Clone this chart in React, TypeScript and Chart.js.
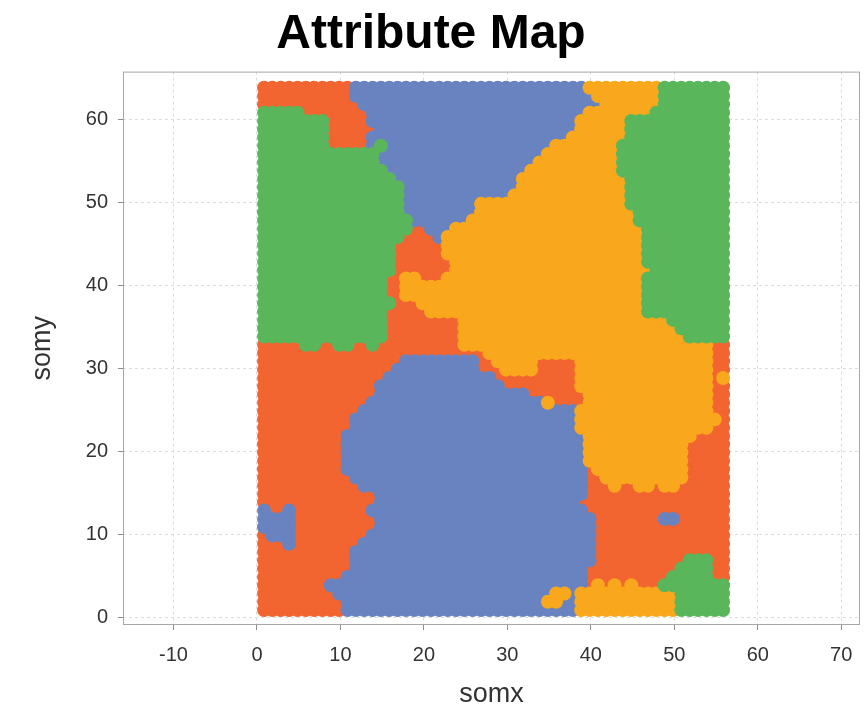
import React, { useEffect, useRef } from "react";
import { Chart, registerables } from "chart.js";

Chart.register(...registerables);

// Cluster letters: R = red, B = blue, Y = yellow, G = green
const CLUSTER_ORDER = ["G", "Y", "B", "R"]; // first drawn on top
const CLUSTER_COLORS: Record<string, string> = {
  R: "#F26430",
  B: "#6883C0",
  Y: "#F9A71C",
  G: "#5AB65B",
};
const GRID_COLS = 56;
const X_ORIGIN = 0.85;
const Y_ORIGIN = 0.85;
const X_TICKS = [-10, 0, 10, 20, 30, 40, 50, 60, 70];
const Y_TICKS = [0, 10, 20, 30, 40, 50, 60];

// SOM map rows, run-length coded, top row (somy = 63) first, bottom row last
const MAP_ROWS = [
  "R11 B28 Y9 G8",
  "R11 B29 Y8 G8",
  "R12 B29 Y7 G8",
  "G5 R8 B26 Y8 G9",
  "G8 R5 B25 Y6 G12",
  "G8 R6 B24 Y6 G12",
  "G8 R5 B24 Y7 G12",
  "G8 R5 B1 G1 B20 Y8 G13",
  "G14 B20 Y9 G13",
  "G14 B19 Y10 G13",
  "G15 B17 Y11 G13",
  "G16 B15 Y13 G12",
  "G17 B14 Y13 G12",
  "G17 B13 Y14 G12",
  "G17 B9 Y18 G12",
  "G17 B9 Y19 G11",
  "G18 B7 Y20 G11",
  "G18 R2 B3 Y23 G10",
  "G17 R4 B1 Y24 G10",
  "G16 R6 Y24 G10",
  "G16 R6 Y24 G10",
  "G16 R7 Y23 G10",
  "G16 R7 Y24 G9",
  "G15 R2 Y2 R3 Y24 G10",
  "G15 R2 Y29 G10",
  "G15 R2 Y29 G10",
  "G16 R3 Y27 G10",
  "G15 R5 Y26 G10",
  "G15 R9 Y25 G7",
  "G15 R9 Y26 G6",
  "G15 R9 Y27 G5",
  "R5 G2 R2 G2 R2 G1 R10 Y30 R2",
  "R27 Y27 R2",
  "R17 B9 R2 Y5 R5 Y16 R2",
  "R16 B10 R3 Y4 R5 Y16 R2",
  "R15 B13 R10 Y16 R1 Y1",
  "R14 B15 R9 Y16 R2",
  "R14 B18 R7 Y15 R2",
  "R13 B21 Y1 R4 Y15 R2",
  "R12 B26 Y16 R2",
  "R11 B27 Y17 R1",
  "R11 B27 Y16 R2",
  "R10 B29 Y13 R4",
  "R10 B29 Y12 R5",
  "R10 B29 Y12 R5",
  "R10 B29 Y12 R5",
  "R10 B29 R1 Y11 R5",
  "R11 B28 R2 Y10 R5",
  "R12 B27 R3 Y1 R2 Y2 R1 Y2 R6",
  "R14 B25 R17",
  "R14 B24 R18",
  "B1 R2 B1 R9 B26 R17",
  "B4 R10 B26 R8 B2 R6",
  "B4 R10 B26 R16",
  "R1 B3 R9 B27 R16",
  "R3 B1 R8 B28 R16",
  "R11 B29 R16",
  "R11 B29 R11 G3 R2",
  "R11 B28 R11 G4 R2",
  "R10 B29 R10 G5 R2",
  "R8 B31 R1 Y1 R1 Y1 R1 Y1 R3 G8",
  "R9 B26 Y2 B1 Y12 G6",
  "R10 B24 Y2 B2 Y12 G6",
  "R10 B28 Y12 G6",
];

function decodeRow(rle: string): string {
  let s = "";
  for (const tok of rle.trim().split(/\s+/)) {
    s += tok[0].repeat(parseInt(tok.slice(1), 10));
  }
  if (s.length < GRID_COLS) s = s.padEnd(GRID_COLS, s[s.length - 1]);
  return s.slice(0, GRID_COLS);
}

function buildPoints() {
  const pts: Record<string, { x: number; y: number }[]> = { R: [], B: [], Y: [], G: [] };
  const n = MAP_ROWS.length;
  MAP_ROWS.forEach((rle, r) => {
    const row = decodeRow(rle);
    const j = n - 1 - r;
    for (let k = 0; k < row.length; k++) {
      const c = row[k];
      if (pts[c]) pts[c].push({ x: X_ORIGIN + k, y: Y_ORIGIN + j });
    }
  });
  return pts;
}

const FONT = "'Liberation Sans', Arial, Helvetica, sans-serif";

const framePlugin = {
  id: "plotFrame",
  beforeDatasetsDraw(chart: any) {
    const { ctx, chartArea: a } = chart;
    ctx.save();
    ctx.strokeStyle = "#a6a6a6";
    ctx.lineWidth = 1;
    ctx.setLineDash([]);
    ctx.strokeRect(a.left + 0.5, a.top + 0.5, a.right - a.left - 1, a.bottom - a.top - 1);
    ctx.restore();
  },
};

export default function App() {
  const ref = useRef<HTMLCanvasElement | null>(null);
  useEffect(() => {
    if (!ref.current) return;
    const pts = buildPoints();
    const datasets = CLUSTER_ORDER.map((c) => ({
      label: c,
      data: pts[c],
      backgroundColor: CLUSTER_COLORS[c],
      borderWidth: 0,
      pointRadius: 7,
      pointHoverRadius: 7,
      pointStyle: "circle" as const,
    }));
    const gridCommon = {
      color: "#dcdcdc",
      lineWidth: 1,
      tickColor: "#8c8c8c",
      tickLength: 5,
      tickWidth: 1,
      tickBorderDash: [],
    };
    const chart = new Chart(ref.current, {
      type: "scatter",
      data: { datasets },
      plugins: [framePlugin],
      options: {
        animation: false,
        responsive: false,
        devicePixelRatio: 1,
        events: [],
        layout: { padding: { left: 0, right: 5, top: 0, bottom: 0 } },
        plugins: {
          legend: { display: false },
          tooltip: { enabled: false },
          title: {
            display: true,
            text: "Attribute Map",
            color: "#000",
            font: { family: FONT, size: 48, weight: "bold" },
            padding: { top: 6, bottom: 8 },
          },
        },
        scales: {
          x: {
            type: "linear",
            min: -16.05,
            max: 72.25,
            afterBuildTicks: (s: any) => {
              s.ticks = X_TICKS.map((v) => ({ value: v }));
            },
            afterFit: (s: any) => {
              s.height = 86;
            },
            ticks: {
              color: "#333",
              font: { family: FONT, size: 20 },
              padding: 13,
              maxRotation: 0,
              autoSkip: false,
            },
            grid: gridCommon,
            border: { display: false, dash: [3, 3] },
            title: {
              display: true,
              text: "somx",
              color: "#333",
              font: { family: FONT, size: 27 },
              padding: { top: 0, bottom: 0 },
            },
          },
          y: {
            type: "linear",
            min: -0.95,
            max: 65.8,
            afterBuildTicks: (s: any) => {
              s.ticks = Y_TICKS.map((v) => ({ value: v }));
            },
            afterFit: (s: any) => {
              s.width = 123;
            },
            ticks: {
              color: "#333",
              font: { family: FONT, size: 20 },
              padding: 10,
              autoSkip: false,
            },
            grid: gridCommon,
            border: { display: false, dash: [3, 3] },
            title: {
              display: true,
              text: "somy",
              color: "#333",
              font: { family: FONT, size: 27 },
              padding: { top: 26, bottom: 0 },
            },
          },
        },
      },
    });
    return () => chart.destroy();
  }, []);
  return (
    <div style={{ position: "fixed", left: 0, top: 0, width: 867, height: 711, background: "#fff" }}>
      <canvas ref={ref} width={867} height={711} style={{ display: "block" }} />
    </div>
  );
}
